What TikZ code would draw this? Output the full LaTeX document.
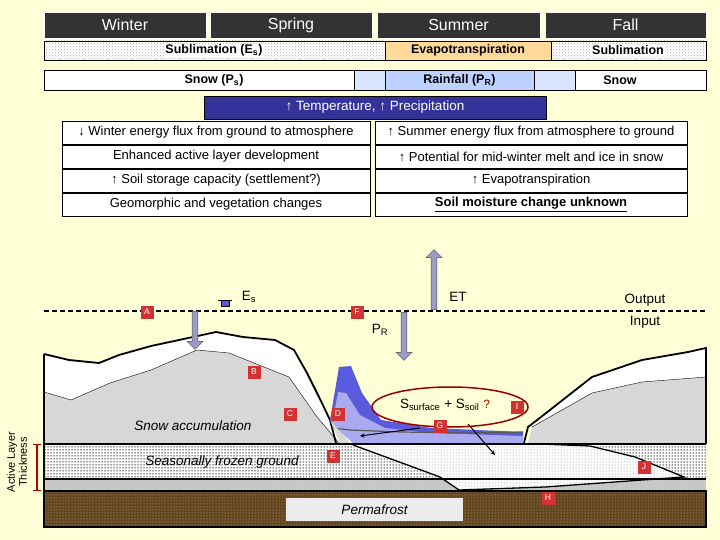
\documentclass[tikz,border=0pt]{standalone}
\usepackage{fontspec}
\setmainfont{Liberation Sans}
\usetikzlibrary{patterns,shapes.arrows,shapes.geometric}
\definecolor{bgy}{RGB}{255,255,215}
\definecolor{hdr}{RGB}{51,51,51}
\definecolor{navy}{RGB}{51,51,153}
\definecolor{ora}{RGB}{255,217,153}
\definecolor{lb}{RGB}{217,230,255}
\definecolor{mb}{RGB}{190,210,255}
\definecolor{snowg}{RGB}{215,215,215}
\definecolor{lred}{RGB}{210,50,50}
\definecolor{brn}{RGB}{100,70,30}
\definecolor{pb}{RGB}{90,90,220}
\definecolor{pl}{RGB}{170,170,240}
\tikzset{
 hbox/.style={draw=white,fill=hdr,text=white,font=\fontsize{16}{18}\selectfont,inner sep=0},
 rbox/.style={draw=black,line width=0.4pt,font=\fontsize{13}{15}\selectfont,inner sep=0},
 bbox/.style={draw=black,line width=0.4pt,font=\bfseries\fontsize{12.5}{14}\selectfont,inner sep=0},
 tag/.style={fill=lred,text=white,font=\fontsize{8.5}{9}\selectfont,minimum width=13pt,minimum height=13pt,inner sep=0},
 lbl/.style={font=\fontsize{13.5}{15}\selectfont,inner sep=0},
 varrow/.style={single arrow,draw=gray!60!black,fill=gray!70!blue!60,minimum width=16pt,single arrow head extend=3pt,inner sep=1.5pt,single arrow head indent=0pt},
}
\begin{document}
\begin{tikzpicture}[x=1pt,y=-1pt]
\useasboundingbox (0,0) rectangle (720,540);
\fill[bgy] (0,0) rectangle (720,540);
% header
\node[hbox,minimum width=162pt,minimum height=26pt] (win) at (125,25) {Winter};
\node[hbox,minimum width=162pt,minimum height=26pt] (spr) at (291,25) {Spring};
\node[hbox,minimum width=163pt,minimum height=26pt] (sum) at (458.5,25) {Summer};
\node[hbox,minimum width=161pt,minimum height=26pt] (fal) at (625.5,25) {Fall};
% sublimation row
\fill[white] (44,41) rectangle (706,60);
\fill[pattern=crosshatch dots,pattern color=gray!60] (44,41) rectangle (385,60);
\fill[pattern=crosshatch dots,pattern color=gray!60] (551,41) rectangle (706,60);
\node[bbox,fill=ora,minimum width=166pt,minimum height=19pt] (evt) at (468,50.5) {Evapotranspiration};
\draw (44,41) rectangle (706,60);
\node[bbox,draw=none,fill=white,inner sep=1pt] (sub1) at (214,50.5) {Sublimation (E\textsubscript{s})};
\node[bbox,draw=none,fill=white,inner sep=1pt] (sub2) at (628,50.5) {Sublimation};
% precip row
\fill[white] (44,70) rectangle (706,90);
\fill[lb] (354,70) rectangle (385,90);
\fill[lb] (534,70) rectangle (575,90);
\draw (354,70) -- (354,90) (534,70)--(534,90) (575,70)--(575,90);
\node[bbox,fill=mb,minimum width=149pt,minimum height=20pt] (rain) at (459.5,80) {Rainfall (P\textsubscript{R})};
\draw (44,70) rectangle (706,90);
\node[bbox,draw=none] (snw) at (214,80) {Snow (P\textsubscript{s})};
\node[bbox,draw=none] (snw2) at (620,80) {Snow};
% temp box
\node[draw=black,fill=navy,text=white,minimum width=342pt,minimum height=23pt,inner sep=0,font=\fontsize{13.5}{15}\selectfont] (tp) at (375,107.5) {↑ Temperature, ↑ Precipitation};
% effects table
\foreach \y/\l/\r [count=\i] in {132.5/{↓ Winter energy flux from ground to atmosphere}/{↑ Summer energy flux from atmosphere to ground},156.5/{Enhanced active layer development}/{↑ Potential for mid-winter melt and ice in snow},180.5/{↑ Soil storage capacity (settlement?)}/{↑ Evapotranspiration}}{
 \node[rbox,fill=white,minimum width=308pt,minimum height=23pt] (l\i) at (216,\y) {\l};
 \node[rbox,fill=white,minimum width=312pt,minimum height=23pt] (r\i) at (531,\y) {\r};
}
\node[rbox,fill=white,minimum width=308pt,minimum height=23pt] (l4) at (216,204.5) {Geomorphic and vegetation changes};
\node[rbox,fill=white,minimum width=312pt,minimum height=23pt,font=\bfseries\fontsize{13}{15}\selectfont] (r4) at (531,204.5) {\underline{Soil moisture change unknown}};
% ---- cross section ----
\fill[snowg] (44,392) -- (71,400) -- (110,383) -- (151,370) -- (197,350) -- (229,353) -- (289,377) -- (317,417) -- (339,443) -- (528,443) -- (532,427) -- (592,393) -- (642,382) -- (706,377) -- (706,444) -- (44,444) -- cycle;
\fill[white] (44,354) -- (69,360) -- (99,363) -- (119,355) -- (151,346) -- (193,337) -- (216,332) -- (243,337) -- (275,340) -- (294,350) -- (307,373) -- (319,397) -- (330,420) -- (339,443)
 -- (317,417) -- (289,377) -- (229,353) -- (197,350) -- (151,370) -- (110,383) -- (71,400) -- (44,392) -- cycle;
\fill[white] (528,427) -- (541,417) -- (592,377) -- (642,360) -- (688,352) -- (706,348) -- (706,377) -- (642,382) -- (592,393) -- (532,427) -- cycle;
\draw[line width=0.4pt] (44,392) -- (71,400) -- (110,383) -- (151,370) -- (197,350) -- (229,353) -- (289,377) -- (317,417) -- (339,443);
\draw[line width=0.4pt] (532,427) -- (592,393) -- (642,382) -- (706,377);
\draw[line width=1.8pt] (44,354) -- (69,360) -- (99,363) -- (119,355) -- (151,346) -- (193,337) -- (216,332) -- (243,337) -- (275,340) -- (294,350) -- (307,373) -- (319,397) -- (330,420) -- (336,443);
\draw[line width=1.8pt] (524,443) -- (528,427) -- (541,417) -- (592,377) -- (642,360) -- (688,352) -- (706,348) -- (706,444);
% pond
\fill[pb] (330,420) -- (339,367) -- (351,366) -- (362,393) -- (381,420) -- (431,428) -- (523,432) -- (523,443) -- (353,443) -- cycle;
\fill[pl] (332,425) -- (338,392) -- (346,393) -- (360,415) -- (385,428) -- (431,433) -- (523,436) -- (523,443) -- (353,443) -- cycle;
\draw[gray!70!black,line width=1.2pt] (332,428) -- (350,430) -- (400,432) -- (470,433) -- (523,432);
\fill[gray!30] (330,420) -- (350,443) -- (340,443) -- cycle;
% frozen ground layers
\fill[white] (44,444) rectangle (706,479);
\fill[pattern=dots,pattern color=black] (44,444) rectangle (706,479);
\fill[pattern=dots,pattern color=black] (44,444) rectangle (706,479);
\fill[gray!45] (44,479) rectangle (706,491);
\fill[pattern=dots,pattern color=gray!30] (44,479) rectangle (706,491);
% thawed lens
\fill[white] (353,447) -- (413,467) -- (440,477) -- (459,490) -- (545,487) -- (684,477) -- (635,457) -- (590,445) -- (523,444) -- (353,444) -- cycle;
\fill[pattern=dots,pattern color=gray] (353,447) -- (413,467) -- (440,477) -- (459,490) -- (545,487) -- (684,477) -- (635,457) -- (590,445) -- (523,444) -- (353,444) -- cycle;
\draw[line width=1.3pt] (353,445) -- (413,467) -- (440,477) -- (459,490);
\draw[line width=1.3pt] (459,490) -- (545,487) -- (684,477) -- (635,457) -- (590,446) -- (540,444);
\draw[line width=1.8pt] (44,444) -- (706,444);
\draw[line width=1.3pt] (44,479) -- (706,479);
% permafrost
\fill[brn] (44,491) rectangle (706,527);
\fill[pattern=dots,pattern color=brn!40] (44,491) rectangle (706,527);
\draw[line width=2pt] (44,491) rectangle (706,527);
\draw[line width=1.8pt] (44,354) -- (44,527);
\node[fill=gray!15!white,minimum width=177pt,minimum height=23pt,inner sep=0,font=\itshape\fontsize{13.5}{15}\selectfont] (pf) at (374.5,509.5) {Permafrost};
% surface flow arrows
\draw[-stealth,line width=1pt] (420,428) -- (360,436);
\coordinate (gt) at (468,424);
\coordinate (gb) at (495,455);
\draw[-stealth,line width=1pt] (gt) -- (gb);
% dashed line
\draw[line width=1.8pt,dash pattern=on 5pt off 3pt] (44,311) -- (706,311);
% arrows
\node[varrow,shape border rotate=270,minimum height=38pt] (sa) at (195,329) {};
\node[varrow,shape border rotate=270,minimum height=48pt] (pa) at (404,335) {};
\node[varrow,shape border rotate=90,minimum height=60pt] (ea) at (434,281) {};
\fill[pb,draw=black,line width=0.5pt] (221,306) rectangle (229,300);
\draw (218,300) -- (232,300);
% ellipse
\node[draw=red!60!black,line width=1.5pt,ellipse,minimum width=156pt,minimum height=40pt,inner sep=0] (ell) at (450,407) {};
\node[lbl] (sx) at (445,405) {S\textsubscript{surface} + S\textsubscript{soil} \textcolor{red!70!black}{\large ?}};
% labels
\node[lbl] (es) at (249,297) {E\textsubscript{s}};
\node[lbl] (et) at (458,297) {ET};
\node[lbl] (pr) at (380,330) {P\textsubscript{R}};
\node[lbl] (out) at (645,300) {Output};
\node[lbl] (inp) at (645,322) {Input};
\node[lbl,font=\itshape\fontsize{13.5}{15}\selectfont] (sacc) at (193,426) {Snow accumulation};
\node[lbl,font=\itshape\fontsize{13.5}{15}\selectfont] (sfg) at (222,462) {Seasonally frozen ground};
\foreach \t/\x/\y in {A/147/312,F/357/312,B/254/372,C/290/414,D/338/414,E/333/456,G/440/426,I/517/407,J/644/467,H/548/498}
 \node[tag] (t\t) at (\x,\y) {\t};
% active layer
\node[rotate=90,align=center,font=\fontsize{11}{12}\selectfont,inner sep=0] (alt) at (17,462) {Active Layer\\Thickness};
\coordinate (at) at (37,444);
\coordinate (ab) at (37,491);
\draw[red!70!black,line width=1.2pt,|-|] (at) -- (ab);
\end{tikzpicture}
\end{document}
